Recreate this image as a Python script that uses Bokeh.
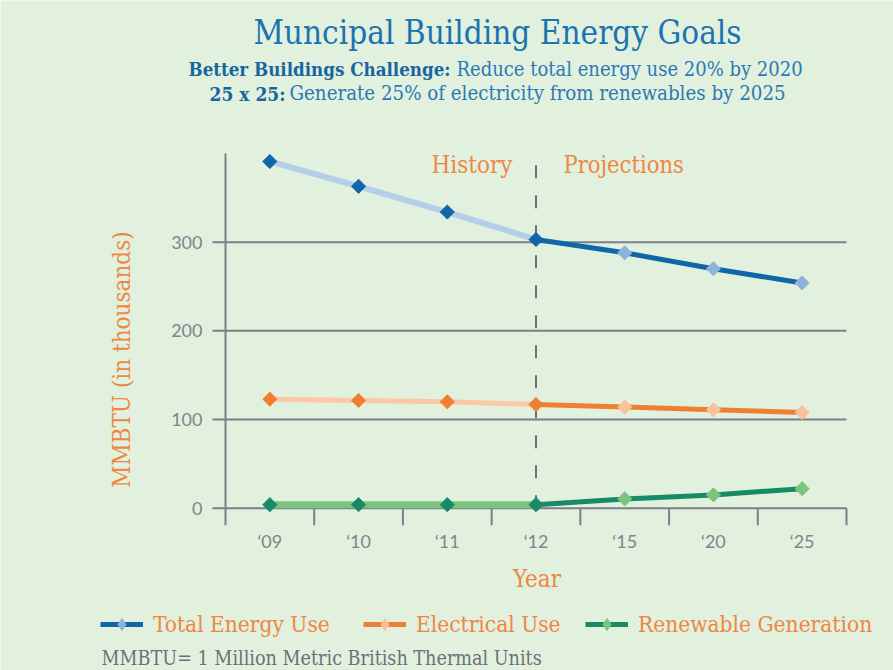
import math
from bokeh.plotting import figure
from bokeh.models import Label, Legend, LegendItem
from bokeh.core.properties import value
from bokeh.embed import file_html
from bokeh.resources import INLINE

# ---------------- data ----------------
years = ["\u201809", "\u201810", "\u201811", "\u201812", "\u201815", "\u201820", "\u201825"]
total_energy = [391, 363, 334, 303, 288, 270, 254]
electrical_use = [123, 121.5, 120, 117, 114, 111, 108]
renewable_gen = [4, 4, 4, 4, 10.5, 15, 22]
y_ticks = [0, 100, 200, 300]
last_history = 3  # index of '12 : history / projections split

x = list(range(len(years)))
bounds = [i - 0.5 for i in range(len(years) + 1)]

# ---------------- style / geometry ----------------
BG = "#e2f0de"
GRAY = "#7b8088"
ORANGE = "#ee8743"
SERIF = "'DejaVu Serif Condensed', 'DejaVu Serif', serif"
SANS = "Lato"

W, H = 893, 670
AX_L, AX_R = 225, 846      # pixel x of plot-area left / right
AX_B, AX_T = 507.7, 153    # pixel y of value 0 / value Y_MAX
Y_MAX = 400

XPX = (AX_R - AX_L) / (bounds[-1] - bounds[0])
YPX = (AX_B - AX_T) / Y_MAX


def dx(px):  # pixel -> data x
    return bounds[0] + (px - AX_L) / XPX


def dy(py):  # pixel -> data y
    return (AX_B - py) / YPX


p = figure(width=W, height=H, min_border=0,
           x_range=(dx(0), dx(W)), y_range=(dy(H), dy(0)),
           x_axis_location=None, y_axis_location=None,
           output_backend="svg", toolbar_location=None,
           background_fill_color=BG, border_fill_color=BG,
           outline_line_color=None)
p.grid.visible = False

Y_TICK_OUT = 13 / XPX
X_TICK_OUT = 17 / YPX

# horizontal grid lines (the one at 0 is the x axis line)
p.segment(x0=[bounds[0] - Y_TICK_OUT] * len(y_ticks), x1=[bounds[-1]] * len(y_ticks),
          y0=y_ticks, y1=y_ticks, line_color=GRAY, line_width=2)
# y axis line
p.segment(x0=[bounds[0]], x1=[bounds[0]], y0=[0], y1=[Y_MAX], line_color=GRAY, line_width=2)
# x-axis ticks at category boundaries
p.segment(x0=bounds, x1=bounds, y0=[0] * len(bounds), y1=[-X_TICK_OUT] * len(bounds),
          line_color=GRAY, line_width=2)
# y tick labels
p.text(x=[bounds[0] - Y_TICK_OUT - 10 / XPX] * len(y_ticks), y=y_ticks,
       text=[str(t) for t in y_ticks], text_align="right", text_baseline="middle",
       text_font=value(SANS), text_font_size="18px", text_color="#80848b")
# x tick labels
p.text(x=x, y=[dy(540)] * len(x), text=years, text_align="center",
       text_baseline="middle", text_font=value(SANS), text_font_size="18px",
       text_color="#80848b")

# history / projection divider
p.segment(x0=[x[last_history]], x1=[x[last_history]], y0=[0], y1=[Y_MAX],
          line_color="#6e7278", line_width=2, line_dash="13 17")


def series(vals, dark, light_line, light_marker, hist_w, proj_w):
    hx, hy = x[:last_history + 1], vals[:last_history + 1]
    px_, py_ = x[last_history:], vals[last_history:]
    p.line(hx, hy, line_color=light_line, line_width=hist_w)
    pl = p.line(px_, py_, line_color=dark, line_width=proj_w)
    # legend marker style (drawn beneath the last projection marker)
    lm = p.scatter(x[-1:], vals[-1:], marker="diamond", size=12,
                   fill_color=light_marker, line_color=light_marker)
    p.scatter(hx, hy, marker="square", size=10, angle=math.pi / 4,
              fill_color=dark, line_color=dark)
    p.scatter(x[last_history + 1:], vals[last_history + 1:], marker="square",
              size=10, angle=math.pi / 4, fill_color=light_marker,
              line_color=light_marker)
    return [pl, lm]


r_total = series(total_energy, "#0f67a8", "#b3cfe9", "#8db3dd", 6, 5)
r_elec = series(electrical_use, "#f07f31", "#f9c8a4", "#f8c29c", 5, 5)
r_ren = series(renewable_gen, "#178a68", "#7cc47e", "#7cc47e", 7, 5)


def label(text, xr, yr, size, color, font=SERIF, align="left",
          baseline="alphabetic", style="normal", angle=0.0):
    if baseline == "alphabetic":
        yr = yr - 0.4 * size  # Bokeh places the text box bottom at y
    p.add_layout(Label(x=dx(xr), y=dy(yr), text=text, text_font=font,
                       text_font_size=f"{size}px", text_color=color,
                       text_align=align, text_baseline=baseline,
                       text_font_style=style, angle=angle))


label("Muncipal Building Energy Goals", 497, 45, 33, "#1b74b0", align="center")
label("Better Buildings Challenge:", 450, 76, 18.6, "#17669f", align="right", style="bold")
label("Reduce total energy use 20% by 2020", 456, 76, 20, "#2a7ab5")
label("25 x 25:", 285, 101, 19, "#17669f", align="right", style="bold")
label("Generate 25% of electricity from renewables by 2025", 289, 101, 20.3, "#2a7ab5")
label("History", 512, 174, 24, ORANGE, align="right")
label("Projections", 563, 174, 23.5, ORANGE)
label("Year", 536.5, 588, 24, ORANGE, align="center")
label("MMBTU (in thousands)", 121, 359, 24, ORANGE, align="center",
      baseline="middle", angle=math.pi / 2)
label("MMBTU= 1 Million Metric British Thermal Units", 101, 666, 19.6, "#6c7178")

# legends: one per series
for name, rends, left_px in [("Total Energy Use", r_total, 100),
                             ("Electrical Use", r_elec, 363),
                             ("Renewable Generation", r_ren, 585)]:
    lg = Legend(items=[LegendItem(label=name, renderers=rends)],
                location=(left_px, H - (624 + 15)),
                orientation="horizontal", padding=0, margin=0, spacing=0,
                glyph_width=43, glyph_height=30, label_height=30,
                label_standoff=10, background_fill_alpha=0,
                border_line_color=None, label_text_font=SERIF,
                label_text_font_size="22.5px", label_text_color=ORANGE)
    p.add_layout(lg, "center")

open("out.html", "w").write(file_html(p, INLINE))
